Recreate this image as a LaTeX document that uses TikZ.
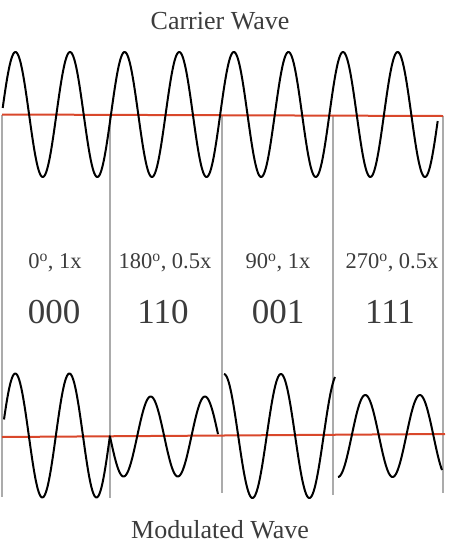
\documentclass[tikz,border=0pt]{standalone}
\usepackage{fontspec}
\setmainfont{Liberation Serif}
\definecolor{wavered}{HTML}{D9472B}
\definecolor{divgray}{HTML}{ABABAB}
\definecolor{txt}{HTML}{3C3C3C}
\begin{document}
\begin{tikzpicture}[x=1pt,y=-1pt,
  wave/.style={line width=2pt,black,line join=round},
  axisline/.style={line width=2pt,wavered},
  divider/.style={line width=1.4pt,divgray},
  title/.style={text=txt,font=\fontsize{26}{30}\selectfont,inner sep=0pt},
  param/.style={text=txt,font=\fontsize{22.5}{26}\selectfont,inner sep=0pt},
  bits/.style={text=txt,font=\fontsize{35}{40}\selectfont,inner sep=0pt}]
\useasboundingbox (0,0) rectangle (465,547);

% dividers
\coordinate (d0t) at (2,115);   \coordinate (d0b) at (2,497);
\coordinate (d1t) at (110,115); \coordinate (d1b) at (110,498);
\coordinate (d2t) at (222,115); \coordinate (d2b) at (222,493);
\coordinate (d3t) at (333,116); \coordinate (d3b) at (333,495);
\coordinate (d4t) at (443,116); \coordinate (d4b) at (443,493);
\foreach \i in {0,...,4} \draw[divider] (d\i t) -- (d\i b);

% axis lines
\coordinate (ctl) at (2,114.5); \coordinate (ctr) at (443,116);
\coordinate (cbl) at (2,437);   \coordinate (cbr) at (445,434);
\draw[axisline] (ctl) -- (ctr);
\draw[axisline] (cbl) -- (cbr);

% carrier wave
\draw[wave] plot[smooth,samples=500,domain=6:2874,variable=\t]
  ({2.7+(\t-6)/360*54.6},{114.5-62.5*sin(\t)});

% modulated wave
\draw[wave] plot[smooth,samples=120,domain=15:720,variable=\t]
  ({4+(\t-15)/705*106},{435.5-62*sin(\t)});
\draw[wave] plot[smooth,samples=120,domain=0:716.6,variable=\t]
  ({110+\t/716.6*108},{436.5+40*sin(\t)});
\draw[wave] plot[smooth,samples=120,domain=0:702,variable=\t]
  ({224+\t/702*111},{436-62*cos(\t)});
\draw[wave] plot[smooth,samples=120,domain=0:686,variable=\t]
  ({338+\t/686*104},{436+41*cos(\t)});

% labels
\node[title] (carrier) at (220,21) {Carrier Wave};
\node[title] (modulated) at (220,530) {Modulated Wave};

\node[param] (p1) at (55,263) {0\textsuperscript{o}, 1x};
\node[param] (p2) at (165,263) {180\textsuperscript{o}, 0.5x};
\node[param] (p3) at (278,263) {90\textsuperscript{o}, 1x};
\node[param] (p4) at (392,263) {270\textsuperscript{o}, 0.5x};

\node[bits] (b1) at (54,312) {000};
\node[bits] (b2) at (163,312) {110};
\node[bits] (b3) at (278,312) {001};
\node[bits] (b4) at (390,312) {111};
\end{tikzpicture}
\end{document}
